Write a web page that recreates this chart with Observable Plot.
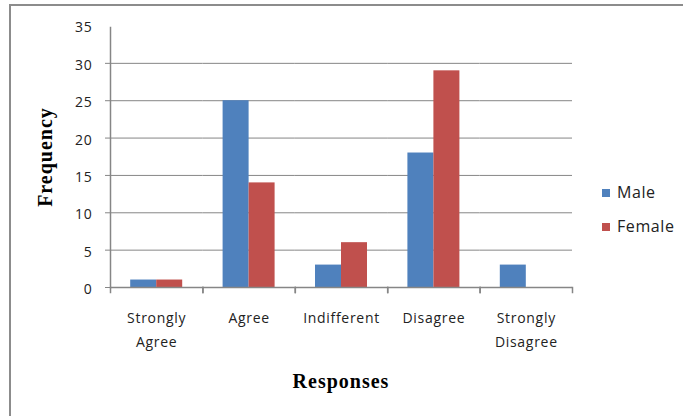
<!DOCTYPE html>
<html>
<head>
<meta charset="utf-8">
<script src="https://cdn.jsdelivr.net/npm/d3@7"></script>
<script src="https://cdn.jsdelivr.net/npm/@observablehq/plot@0.6"></script>
<style>
  html, body { margin: 0; padding: 0; background: #fff; }
  #wrap { position: relative; width: 683px; height: 416px; overflow: hidden; }
  #border { position: absolute; left: 9px; top: 4px; width: 680px; height: 420px; border: 2px solid #8c8c8c; box-sizing: border-box; }
  #chart { position: absolute; left: 0; top: 0; }
  #chart svg text { letter-spacing: 0.7px; }
  .ylab { position: absolute; font-family: "Liberation Serif", "Times New Roman", serif; font-weight: bold; font-size: 20px; letter-spacing: 1px; color: #000; white-space: nowrap; }
  .leg { position: absolute; font-family: "Open Sans", sans-serif; font-size: 16px; letter-spacing: 0.6px; color: #222; }
  .sw { position: absolute; width: 8px; height: 8px; }
</style>
</head>
<body>
<div id="wrap">
  <div id="border"></div>
  <div id="chart"></div>
</div>
<script>
// ---- data ----
const responses = ["Strongly Agree", "Agree", "Indifferent", "Disagree", "Strongly Disagree"];
const responseLabels = ["Strongly\nAgree", "Agree", "Indifferent", "Disagree", "Strongly\nDisagree"];
const series = ["Male", "Female"];
const maleValues = [1, 25, 3, 18, 3];
const femaleValues = [1, 14, 6, 29, 0];
const yTicks = [0, 5, 10, 15, 20, 25, 30, 35];
const gridTicks = [5, 10, 15, 20, 25, 30];
const tickMarks = [0, 5, 10, 15, 20, 25, 30];
const colors = ["#4F81BD", "#C0504D"];

const rows = [];
responses.forEach((r, i) => {
  rows.push({response: r, sex: "Male", value: maleValues[i]});
  rows.push({response: r, sex: "Female", value: femaleValues[i]});
});
const labelOf = new Map(responses.map((r, i) => [r, responseLabels[i]]));

const axisColor = "#868686";

const chart = Plot.plot({
  width: 683,
  height: 416,
  marginLeft: 110,
  marginRight: 111,
  marginTop: 25.5,
  marginBottom: 129,
  style: {fontFamily: "'Open Sans', sans-serif", fontSize: "14px", color: "#222", background: "transparent"},
  fx: {domain: responses, padding: 0, round: false},
  x: {domain: series, paddingInner: 0, paddingOuter: 0.777, round: false, axis: null},
  y: {domain: [0, 35], axis: null},
  color: {domain: series, range: colors},
  marks: [
    Plot.gridY(gridTicks, {stroke: axisColor, strokeOpacity: 1, strokeWidth: 1}),
    Plot.barY(rows, {fx: "response", x: "sex", y: "value", fill: "sex", inset: 0}),
    Plot.ruleY([0], {stroke: axisColor, strokeWidth: 1.5}),
    Plot.frame({anchor: "left", insetTop: 261.5, insetBottom: -5, stroke: axisColor, strokeWidth: 1.5}),
    Plot.frame({anchor: "right", insetTop: 261.5, insetBottom: -5, stroke: axisColor, strokeWidth: 1.5}),
    Plot.frame({anchor: "left", facetAnchor: "left", insetTop: 1.5, stroke: axisColor, strokeWidth: 1.5}),
    Plot.axisY(tickMarks, {tickSize: 5, stroke: axisColor, text: null, label: null}),
    Plot.axisY({ticks: yTicks, tickSize: 5, tickPadding: 13, stroke: "none", fontSize: 14, dy: 2, label: null}),
    Plot.axisFx({anchor: "bottom", tickSize: 0, tickPadding: 19, fontSize: 14, lineHeight: 1.7, tickFormat: d => labelOf.get(d), label: null})
  ]
});
document.getElementById("chart").appendChild(chart);

// axis titles and legend
const wrap = document.getElementById("wrap");
const ylab = document.createElement("div");
ylab.className = "ylab";
ylab.textContent = "Frequency";
ylab.style.left = "45px";
ylab.style.top = "157px";
ylab.style.transform = "translate(-50%, -50%) rotate(-90deg)";
wrap.appendChild(ylab);

const xlab = document.createElement("div");
xlab.className = "ylab";
xlab.textContent = "Responses";
xlab.style.left = "341px";
xlab.style.top = "381px";
xlab.style.transform = "translate(-50%, -50%)";
wrap.appendChild(xlab);

series.forEach((s, i) => {
  const sw = document.createElement("div");
  sw.className = "sw";
  sw.style.background = colors[i];
  sw.style.left = "602px";
  sw.style.top = (189 + i * 34) + "px";
  wrap.appendChild(sw);
  const t = document.createElement("div");
  t.className = "leg";
  t.textContent = s;
  t.style.left = "617px";
  t.style.top = (181 + i * 34) + "px";
  wrap.appendChild(t);
});
</script>
</body>
</html>
